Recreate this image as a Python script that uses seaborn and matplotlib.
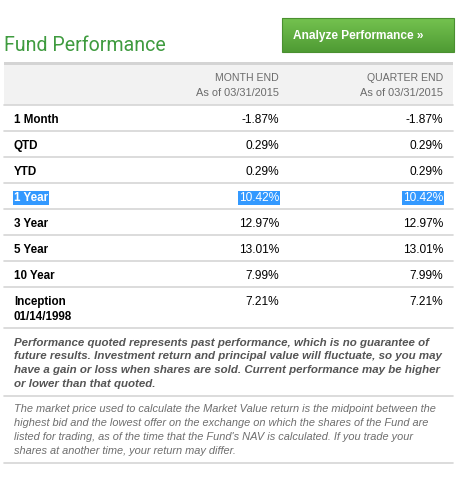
import numpy as np
import seaborn as sns
import matplotlib.pyplot as plt
from matplotlib.patches import Rectangle

# Table content
periods = ["1 Month", "QTD", "YTD", "1 Year", "3 Year", "5 Year", "10 Year", "Inception\n01/14/1998"]
month_end = [-1.87, 0.29, 0.29, 10.42, 12.97, 13.01, 7.99, 7.21]
quarter_end = [-1.87, 0.29, 0.29, 10.42, 12.97, 13.01, 7.99, 7.21]
columns = ["MONTH END\nAs of 03/31/2015", "QUARTER END\nAs of 03/31/2015"]
selected = "1 Year"

title = "Fund Performance"
button = "Analyze Performance \u00bb"
note_bold = ["Performance quoted represents past performance, which is no guarantee of",
             "future results. Investment return and principal value will fluctuate, so you may",
             "have a gain or loss when shares are sold. Current performance may be higher",
             "or lower than that quoted."]
note_plain = ["The market price used to calculate the Market Value return is the midpoint between the",
              "highest bid and the lowest offer on the exchange on which the shares of the Fund are",
              "listed for trading, as of the time that the Fund's NAV is calculated. If you trade your",
              "shares at another time, your return may differ."]

sns.set_theme(style="white")
plt.rcParams["font.family"] = ["Liberation Sans", "DejaVu Sans"]

W, H = 468, 478
fig = plt.figure(figsize=(W / 100, H / 100), dpi=100)
ax = fig.add_axes([0, 0, 1, 1])
ax.set_xlim(0, W)
ax.set_ylim(H, 0)
ax.axis("off")

left, right = 4, 453
col_x = [279, 443]
line_c = "#d6d6d6"

# title and button
ax.text(4, 51, title, fontsize=14.1, family=["Roboto", "Liberation Sans"], color="#3f9b3f", va="baseline")
grad = np.linspace(0, 1, 64).reshape(-1, 1)
ax.imshow(grad, extent=[282, 454, 52, 18], cmap=sns.blend_palette(["#74c24f", "#4f9b34"], as_cmap=True),
          aspect="auto", zorder=1)
ax.add_patch(Rectangle((282, 18), 172, 34, fill=False, ec="#4a9030", lw=0.8, zorder=2))
ax.text(293, 39, button, fontsize=8.6, weight="bold", color="white", va="baseline", zorder=3)

# header band
ax.add_patch(Rectangle((left, 62), right - left, 43, color="#f2f2f2", lw=0))
ax.add_patch(Rectangle((left, 62), right - left, 3, color="#d4d4d4", lw=0))
for x, lab in zip(col_x, columns):
    top, bot = lab.split("\n")
    ax.text(x, 81, top, ha="right", va="baseline", fontsize=7.6, color="#6b6b6b")
    ax.text(x, 96, bot, ha="right", va="baseline", fontsize=7.9, color="#6b6b6b")

# rows
row_h = 26
y = 105
ax.plot([left, right], [y, y], color=line_c, lw=1.2)
for name, m, q in zip(periods, month_end, quarter_end):
    h = row_h + 15 * name.count("\n")
    base_y = y + 18
    hl = name == selected
    fg = "white" if hl else "black"
    for k, ln in enumerate(name.split("\n")):
        t = ax.text(14, base_y + 15 * k, ln, fontsize=8.4, weight="bold", color=fg, va="baseline", zorder=3)
        if hl:
            t.set_bbox(dict(boxstyle="square,pad=0.1", fc="#3399ff", ec="none"))
    for x, v in zip(col_x, [m, q]):
        t = ax.text(x, base_y, f"{v:.2f}%", ha="right", va="baseline", fontsize=8.6, color=fg, zorder=3)
        if hl:
            t.set_bbox(dict(boxstyle="square,pad=0.1", fc="#3399ff", ec="none"))
    y += h
    ax.plot([left, right], [y, y], color=line_c, lw=1.2)

# notes
for k, ln in enumerate(note_bold):
    ax.text(14, 345.5 + 13.8 * k, ln, fontsize=8.25, weight="bold", style="italic",
            color="#555555", va="baseline")
ax.plot([left, right], [395.7, 395.7], color=line_c, lw=1.2)
for k, ln in enumerate(note_plain):
    ax.text(14, 412.5 + 13.7 * k, ln, fontsize=7.95, style="italic", color="#6e6e6e", va="baseline")
ax.plot([left, right], [462.7, 462.7], color=line_c, lw=1.2)

fig.savefig("out.png", dpi=100)
